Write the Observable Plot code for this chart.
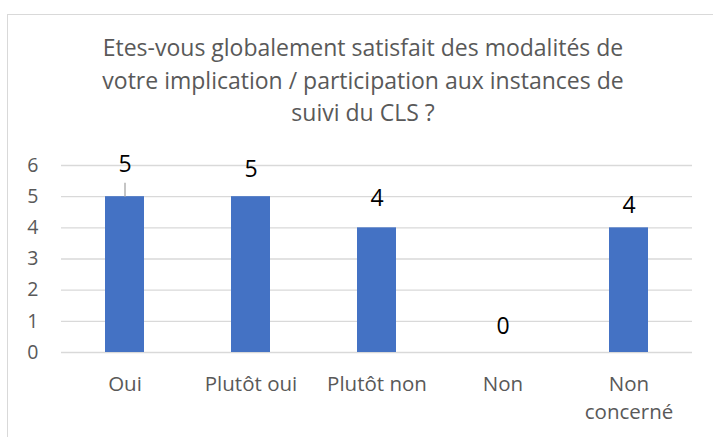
<!DOCTYPE html>
<html>
<head>
<meta charset="utf-8">
<script src="https://cdn.jsdelivr.net/npm/d3@7"></script>
<script src="https://cdn.jsdelivr.net/npm/@observablehq/plot@0.6"></script>
<style>
  html, body { margin: 0; padding: 0; background: #fff; }
  #wrap { position: relative; width: 713px; height: 437px; overflow: hidden; font-family: "Open Sans", Lato, sans-serif; }
  #frame { position: absolute; left: 7px; top: 14px; width: 800px; height: 500px; border-left: 1px solid #d9d9d9; border-top: 1px solid #d9d9d9; }
  #title { position: absolute; left: 0; width: 726px; top: 31px; text-align: center; font-size: 23px; line-height: 32.5px; color: #595959; }
  #chart { position: absolute; left: 0; top: 140px; }
</style>
</head>
<body>
<div id="wrap">
  <div id="frame"></div>
  <div id="title">Etes-vous globalement satisfait des modalités de<br>votre implication / participation aux instances de<br>suivi du CLS ?</div>
  <div id="chart"></div>
</div>
<script>
const categories = ["Oui", "Plutôt oui", "Plutôt non", "Non", "Non concerné"];
const values = [5, 5, 4, 0, 4];
const yTicks = [0, 1, 2, 3, 4, 5, 6];

const data = categories.map((c, i) => ({category: c, value: values[i]}));

// label vertical offsets (style only)
const labelDy = {"Oui": -25, "Plutôt oui": -20, "Plutôt non": -21.5, "Non": -19, "Non concerné": -15};
const dyGroups = d3.groups(data, d => labelDy[d.category]);

const leader = {draw(ctx, size) { ctx.moveTo(0, 0); ctx.lineTo(0, -14); }};

const fontFam = "'Open Sans', Lato, sans-serif";

const plot = Plot.plot({
  width: 713,
  height: 297,
  marginLeft: 61,
  marginRight: 21,
  marginTop: 25,
  marginBottom: 85,
  style: {fontFamily: fontFam, background: "transparent", overflow: "visible"},
  x: {domain: categories, paddingInner: 0.69, paddingOuter: 0.345, label: null},
  y: {domain: [0, 6], label: null},
  marks: [
    Plot.gridY(yTicks, {stroke: "#d9d9d9", strokeOpacity: 1, strokeWidth: 1.3}),
    Plot.barY(data, {x: "category", y: "value", fill: "#4472C4"}),
    Plot.dot(data.filter(d => d.category === "Oui"), {x: "category", y: "value", symbol: leader, stroke: "#a6a6a6", strokeWidth: 1.3, fill: "none", r: 3}),
    ...dyGroups.map(([dy, rows]) => Plot.text(rows, {x: "category", y: "value", text: d => String(d.value), dy, lineAnchor: "bottom", fontSize: 23, fill: "#000"})),
    Plot.axisY(yTicks, {tickSize: 0, tickPadding: 23, fontSize: 19.5, fill: "#595959", label: null}),
    Plot.axisX({tickSize: 0, tickPadding: 18, fontSize: 20.5, fill: "#595959", lineHeight: 1.38, label: null,
      tickFormat: d => d === "Non concerné" ? "Non\nconcerné" : d})
  ]
});
document.getElementById("chart").appendChild(plot);
</script>
</body>
</html>
